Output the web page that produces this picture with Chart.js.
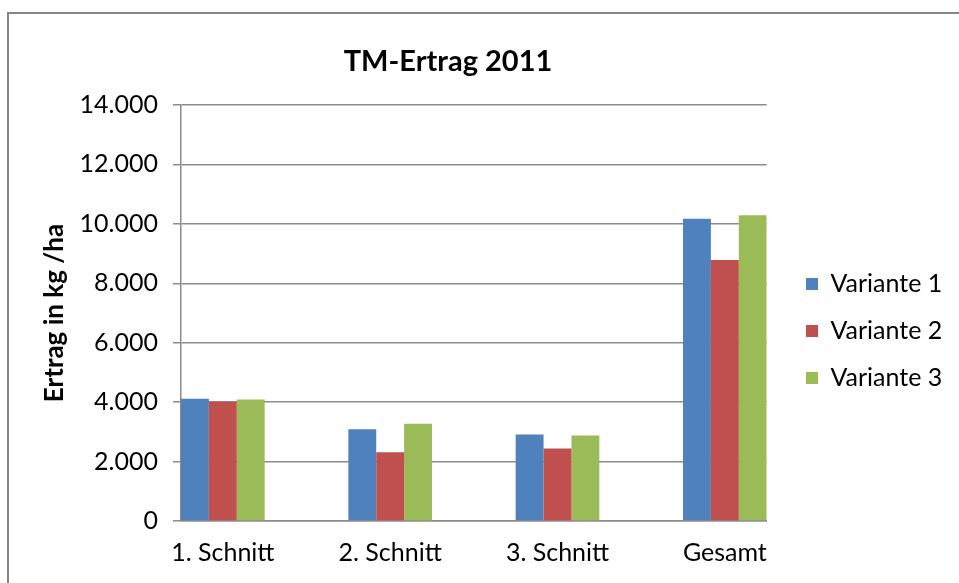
<!DOCTYPE html>
<html><head><meta charset="utf-8">
<script src="https://cdn.jsdelivr.net/npm/chart.js@4.4.1/dist/chart.umd.min.js"></script>
<style>
html,body{margin:0;padding:0;background:#fff}
#wrap{position:relative;width:959px;height:583px;overflow:hidden}
#frame{position:absolute;left:7px;top:12px;width:970px;height:600px;border-left:2px solid #868686;border-top:2px solid #868686}
canvas{position:absolute;left:0;top:0}
</style></head>
<body><div id="wrap"><div id="frame"></div><canvas id="c" width="959" height="583"></canvas></div>
<script>
const chartTitle = 'TM-Ertrag 2011';
const yAxisTitle = 'Ertrag in kg /ha';
const categories = ['1. Schnitt', '2. Schnitt', '3. Schnitt', 'Gesamt'];
const seriesNames = ['Variante 1', 'Variante 2', 'Variante 3'];
const variante1 = [4110, 3090, 2910, 10170];
const variante2 = [4010, 2310, 2440, 8780];
const variante3 = [4090, 3270, 2880, 10290];
const seriesColors = ['#4F81BD', '#C0504D', '#9BBB59'];
const yMin = 0, yMax = 14000, yStep = 2000;

const FONT = 'Lato';
const gridColor = '#8c8c8c';

function fmt(v) { return String(v).replace(/\B(?=(\d{3})+(?!\d))/g, '.'); }

const seriesValues = [variante1, variante2, variante3];
const datasets = seriesNames.map((name, s) => ({
  label: name,
  data: seriesValues[s].map((v, i) => ({x: i, y: v})),
  backgroundColor: seriesColors[s],
  borderWidth: 0,
  categoryPercentage: 0.5,
  barPercentage: 1.0
}));

const LEGEND_BOX_X = 806; // left edge of legend swatches

const titlePlugin = {
  id: 'customTitle',
  afterLayout(chart) {
    const l = chart.legend;
    if (l) {
      const dx = (LEGEND_BOX_X - 22) - l.left;
      l.left += dx; l.right += dx;
      l.top -= 7; l.bottom -= 7;
    }
  },
  afterDraw(chart) {
    const ctx = chart.ctx;
    ctx.save();
    ctx.font = 'bold 29px ' + FONT;
    ctx.fillStyle = '#000';
    ctx.textAlign = 'center';
    ctx.textBaseline = 'middle';
    ctx.fillText(chartTitle, 448, 62);
    ctx.restore();
  }
};

new Chart(document.getElementById('c'), {
  type: 'bar',
  data: { datasets },
  plugins: [titlePlugin],
  options: {
    responsive: false,
    animation: false,
    layout: { padding: { left: 8, right: 24, top: 105, bottom: 12 } },
    plugins: {
      title: { display: false },
      tooltip: { enabled: false },
      legend: {
        position: 'right',
        align: 'center',
        labels: {
          boxWidth: 12, boxHeight: 12, padding: 22,
          color: '#000',
          font: { family: FONT, size: 25 }
        }
      }
    },
    scales: {
      x: {
        type: 'linear',
        offset: false,
        min: -0.25, max: 3.25,
        grid: { display: false, drawTicks: false, offset: false },
        border: { display: true, color: gridColor, width: 1.5 },
        ticks: {
          stepSize: 1, includeBounds: false, autoSkip: false, maxRotation: 0,
          padding: 17, color: '#000',
          font: { family: FONT, size: 25 },
          callback: (v) => categories[v] !== undefined ? categories[v] : ''
        },
        afterFit(s) { s.height = 583 - 12 - 521; }
      },
      y: {
        min: yMin, max: yMax,
        grid: { color: gridColor, lineWidth: 1.5, tickLength: 8 },
        border: { display: true, color: gridColor, width: 1.5 },
        ticks: {
          stepSize: yStep, padding: 15, color: '#000',
          font: { family: FONT, size: 25 },
          callback: (v) => fmt(v)
        },
        title: {
          display: true, text: yAxisTitle, color: '#000',
          font: { family: FONT, size: 26, weight: 'bold' },
          padding: { top: 31, bottom: 0 }
        },
        afterFit(s) { s.width = 181 - 8; }
      }
    }
  }
});
</script>
</body></html>
